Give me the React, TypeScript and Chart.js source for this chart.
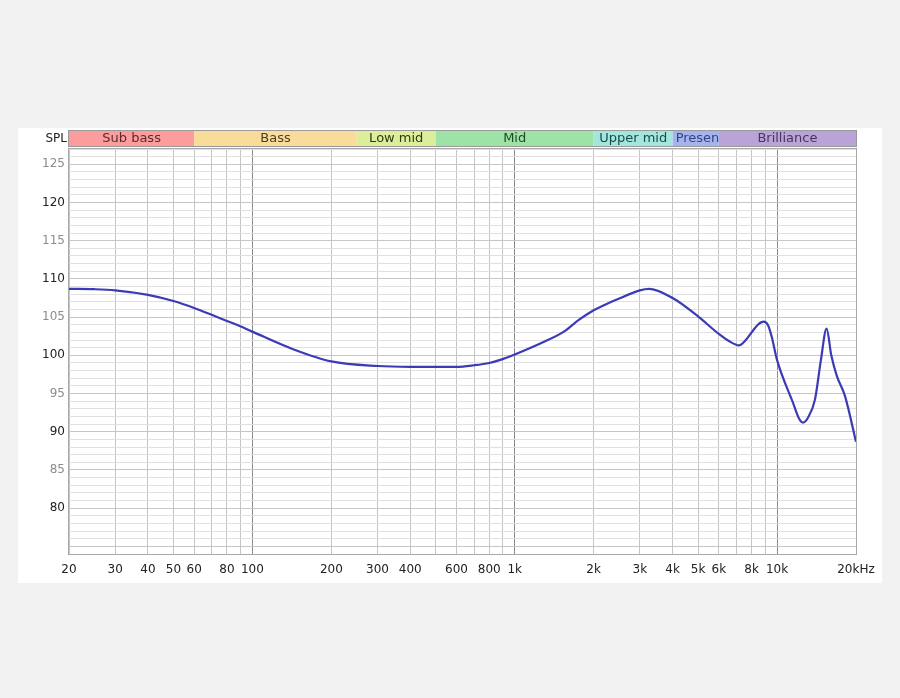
import { useEffect, useRef } from 'react';
import { Chart, registerables } from 'chart.js';

Chart.register(...registerables);

// Frequency response (Hz -> dB SPL)
const FREQS = [20, 25, 30, 40, 50, 60, 70, 80, 90, 100, 143, 200, 300, 400, 600, 700, 800, 900, 1000, 1300, 1540, 1750, 2000, 2200, 2450, 3000, 3250, 4000, 5000, 6000, 6600, 7150, 7600, 8000, 8450, 8900, 9250, 9550, 10000, 11500, 12100, 12550, 13100, 13950, 14700, 15450, 16100, 16900, 18150, 20000];
const SPL = [108.7, 108.65, 108.5, 107.9, 107.1, 106.2, 105.3, 104.5, 103.8, 103.1, 100.8, 99.2, 98.6, 98.5, 98.5, 98.7, 99.0, 99.5, 100.1, 101.8, 103.1, 104.6, 105.9, 106.6, 107.3, 108.5, 108.7, 107.5, 105.1, 102.8, 101.8, 101.3, 102.0, 103.0, 104.0, 104.4, 103.9, 102.4, 99.4, 93.8, 91.8, 91.2, 91.8, 94.2, 99.4, 103.5, 100.0, 97.3, 94.7, 88.7];

// X axis
const X_GRID = [20, 30, 40, 50, 60, 70, 80, 90, 100, 200, 300, 400, 500, 600, 700, 800, 900, 1000, 2000, 3000, 4000, 5000, 6000, 7000, 8000, 9000, 10000, 20000];
const X_LABEL_VALUES = [20, 30, 40, 50, 60, 80, 100, 200, 300, 400, 600, 800, 1000, 2000, 3000, 4000, 5000, 6000, 8000, 10000, 20000];
const X_LABEL_TEXT = ['20', '30', '40', '50', '60', '80', '100', '200', '300', '400', '600', '800', '1k', '2k', '3k', '4k', '5k', '6k', '8k', '10k', '20kHz'];
const X_DARK = [100, 1000, 10000];

// Y axis
const Y_MIN = 74;
const Y_MAX = 127;
const Y_LABELS = [125, 120, 115, 110, 105, 100, 95, 90, 85, 80];

// Frequency bands
const BAND_NAMES = ['Sub bass', 'Bass', 'Low mid', 'Mid', 'Upper mid', 'Presence', 'Brilliance'];
const BAND_EDGES = [20, 60, 250, 500, 2000, 4000, 6000, 20000];
const BAND_COLORS = ['#fc9c9c', '#f9dc99', '#dcee9a', '#9ee3a6', '#a2e6de', '#a5b4ec', '#b9a3d7'];
const BAND_TEXT = ['#5a2a2a', '#4a4028', '#2e3a12', '#1c4a24', '#1c4a46', '#34428a', '#44365e'];

const FONT = 'DejaVu Sans';

const yGrid: number[] = [];
for (let v = Y_MIN; v <= Y_MAX; v++) yGrid.push(v);

const decorPlugin = {
  id: 'decor',
  beforeDraw(chart: any) {
    const { ctx, scales } = chart;
    const xs = scales.x;
    ctx.save();
    ctx.fillStyle = '#f2f2f2';
    ctx.fillRect(0, 0, chart.width, chart.height);
    ctx.fillStyle = '#ffffff';
    ctx.fillRect(18, 128, 864, 455);

    const top = 131;
    const h = 15;
    ctx.font = `13px "${FONT}"`;
    ctx.textBaseline = 'middle';
    for (let i = 0; i < BAND_NAMES.length; i++) {
      const x0 = xs.getPixelForValue(BAND_EDGES[i]);
      const x1 = xs.getPixelForValue(BAND_EDGES[i + 1]);
      ctx.fillStyle = BAND_COLORS[i];
      ctx.fillRect(x0, top, x1 - x0, h);
      ctx.save();
      ctx.beginPath();
      ctx.rect(x0, top, x1 - x0, h);
      ctx.clip();
      ctx.fillStyle = BAND_TEXT[i];
      const w = ctx.measureText(BAND_NAMES[i]).width;
      if (w > x1 - x0 - 4) {
        ctx.textAlign = 'left';
        ctx.fillText(BAND_NAMES[i], x0 + 3, top + h / 2 + 0.5);
      } else {
        ctx.textAlign = 'center';
        ctx.fillText(BAND_NAMES[i], (x0 + x1) / 2, top + h / 2 + 0.5);
      }
      ctx.restore();
    }
    const bx0 = xs.getPixelForValue(BAND_EDGES[0]);
    const bx1 = xs.getPixelForValue(BAND_EDGES[BAND_EDGES.length - 1]);
    ctx.strokeStyle = '#9a9a9a';
    ctx.lineWidth = 1;
    ctx.strokeRect(Math.round(bx0) - 0.5, top - 0.5, Math.round(bx1 - bx0) + 1, h + 1);

    ctx.font = `12px "${FONT}"`;
    ctx.fillStyle = '#222';
    ctx.textAlign = 'right';
    ctx.fillText('SPL', 67, top + h / 2 + 0.5);
    ctx.restore();
  },
  beforeDatasetsDraw(chart: any) {
    const { ctx, chartArea } = chart;
    ctx.save();
    ctx.strokeStyle = '#a8a8a8';
    ctx.lineWidth = 1;
    ctx.strokeRect(Math.round(chartArea.left) - 0.5, Math.round(chartArea.top) - 0.5,
      Math.round(chartArea.right - chartArea.left) + 1, Math.round(chartArea.bottom - chartArea.top) + 1);
    ctx.restore();
  },
};

export default function App() {
  const ref = useRef<HTMLCanvasElement>(null);
  useEffect(() => {
    const points = FREQS.map((f, i) => ({ x: f, y: SPL[i] }));
    const chart = new Chart(ref.current as HTMLCanvasElement, {
      type: 'line',
      data: {
        datasets: [{
          data: points,
          borderColor: '#3b3bb6',
          borderWidth: 2.2,
          pointRadius: 0,
          cubicInterpolationMode: 'monotone',
          fill: false,
        }],
      },
      options: {
        responsive: false,
        animation: false,
        devicePixelRatio: 1,
        layout: { padding: { left: 18, top: 149, right: 44, bottom: 114 } },
        plugins: { legend: { display: false }, tooltip: { enabled: false } },
        scales: {
          x: {
            type: 'logarithmic',
            min: 20,
            max: 20000,
            afterBuildTicks: (s: any) => { s.ticks = X_GRID.map((v) => ({ value: v })); },
            afterFit: (s: any) => { s.height = 30; },
            border: { display: false },
            grid: {
              drawTicks: false,
              lineWidth: 1,
              color: (c: any) => (c.tick && X_DARK.includes(c.tick.value) ? '#8a8a8a' : '#c4c4c4'),
            },
            ticks: {
              autoSkip: false,
              maxRotation: 0,
              padding: 9,
              color: '#222',
              font: { family: FONT, size: 12 },
              callback: (v: any) => {
                const i = X_LABEL_VALUES.indexOf(Number(v));
                return i >= 0 ? X_LABEL_TEXT[i] : '';
              },
            },
          },
          y: {
            type: 'linear',
            min: Y_MIN,
            max: Y_MAX,
            afterBuildTicks: (s: any) => { s.ticks = yGrid.map((v) => ({ value: v })); },
            afterFit: (s: any) => { s.width = 51; },
            border: { display: false },
            grid: {
              drawTicks: false,
              lineWidth: 1,
              color: (c: any) => (c.tick && c.tick.value % 5 === 0 ? '#c6c6c6' : '#e0e0e0'),
            },
            ticks: {
              autoSkip: false,
              padding: 4,
              font: { family: FONT, size: 12 },
              color: (c: any) => (c.tick && c.tick.value % 10 === 0 ? '#222' : '#8c8c8c'),
              callback: (v: any) => (Y_LABELS.includes(Number(v)) ? String(v) : ''),
            },
          },
        },
      },
      plugins: [decorPlugin],
    } as any);
    return () => chart.destroy();
  }, []);
  return (
    <div style={{ position: 'fixed', left: 0, top: 0, width: 900, height: 698, background: '#f2f2f2' }}>
      <canvas ref={ref} width={900} height={698} style={{ display: 'block', width: 900, height: 698 }} />
    </div>
  );
}
